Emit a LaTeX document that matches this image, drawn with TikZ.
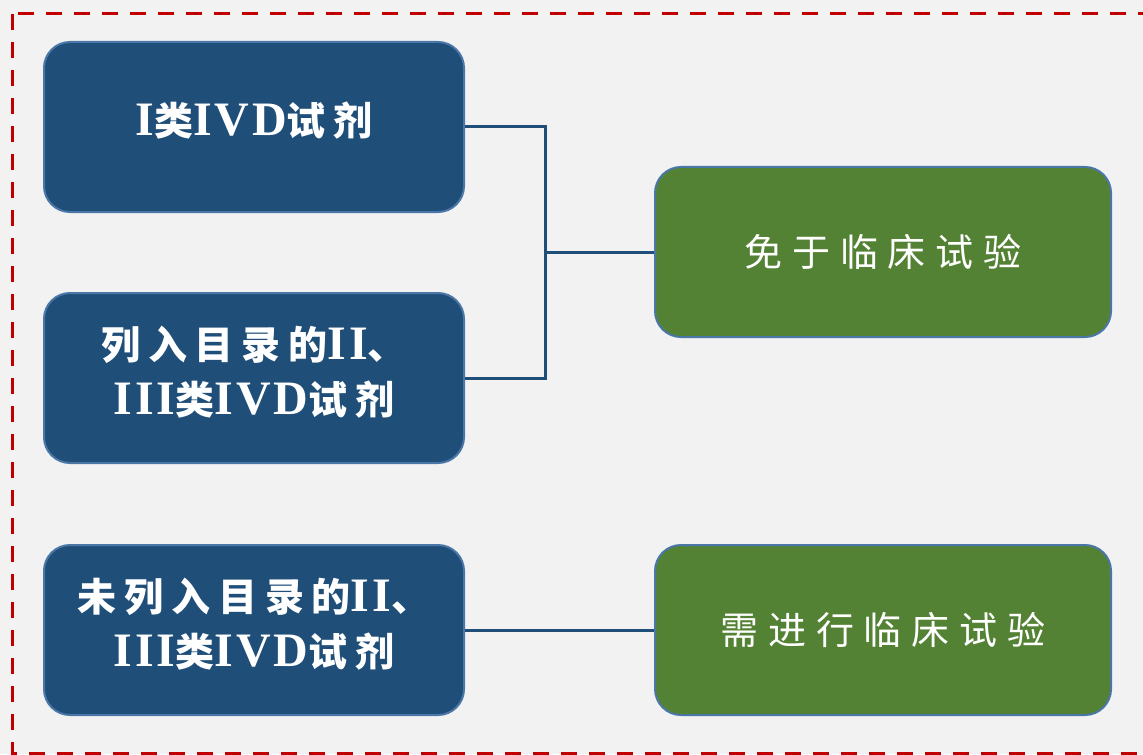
\documentclass[tikz,border=0pt]{standalone}
\usepackage{fontspec}
\newfontfamily\cjk{Noto Sans CJK SC}[LetterSpace=20]
\newfontfamily\cjkl{Noto Sans CJK SC}[LetterSpace=26]
\newfontfamily\latf{Liberation Serif}[LetterSpace=6]
\newcommand{\la}[1]{{\latf\fontsize{24}{27.5}\selectfont #1}}
\newcommand{\cj}[1]{{\cjk #1}}
\definecolor{bg}{HTML}{F2F2F2}
\definecolor{boxblue}{HTML}{1F4E79}
\definecolor{boxedge}{HTML}{4A76A8}
\definecolor{boxgreen}{HTML}{548235}
\definecolor{borderred}{HTML}{C00000}
\tikzset{
  bluebox/.style={draw=boxedge, fill=boxblue, line width=1pt, rounded corners=13pt,
    minimum width=210pt, minimum height=85pt, text=white, align=center, inner sep=0pt,
    text depth=8pt, font=\fontsize{19.5}{27.5}\selectfont\bfseries},
  greenbox/.style={draw=boxedge, fill=boxgreen, line width=1pt, rounded corners=13pt,
    minimum width=228pt, minimum height=85pt, text=white, align=center, inner sep=0pt,
    font=\fontsize{19}{27.5}\selectfont\cjkl},
  conn/.style={draw=boxblue, line width=1.5pt},
  frame/.style={draw=borderred, line width=1.5pt, dash pattern=on 8pt off 6pt}
}
\begin{document}
\begin{tikzpicture}[x=0.5pt,y=-0.5pt]
\useasboundingbox (0,0) rectangle (1143,754);
\fill[bg] (0,0) rectangle (1143,754);
\begin{scope}
\clip (0,0) rectangle (1143,754);
\draw[frame] (12,14) rectangle (1160,753);
\end{scope}
\node[bluebox] (b1) at (254,127) {\la{I}\cj{类}\la{IVD}\cj{试剂}};
\node[bluebox] (b2) at (254,378) {\cj{列入目录的}\la{II}\cj{、}\\\la{III}\cj{类}\la{IVD}\cj{试剂}};
\node[bluebox] (b3) at (254,630) {\cj{未列入目录的}\la{II}\cj{、}\\\la{III}\cj{类}\la{IVD}\cj{试剂}};
\node[greenbox] (g1) at (883,252) {免于临床试验};
\node[greenbox] (g2) at (883,630) {需进行临床试验};
\coordinate (j) at (545,252);
\draw[conn] (b1.east) -| (j) |- (b2.east);
\draw[conn] (j) -- (g1.west);
\draw[conn] (b3.east) -- (g2.west);
\end{tikzpicture}
\end{document}
